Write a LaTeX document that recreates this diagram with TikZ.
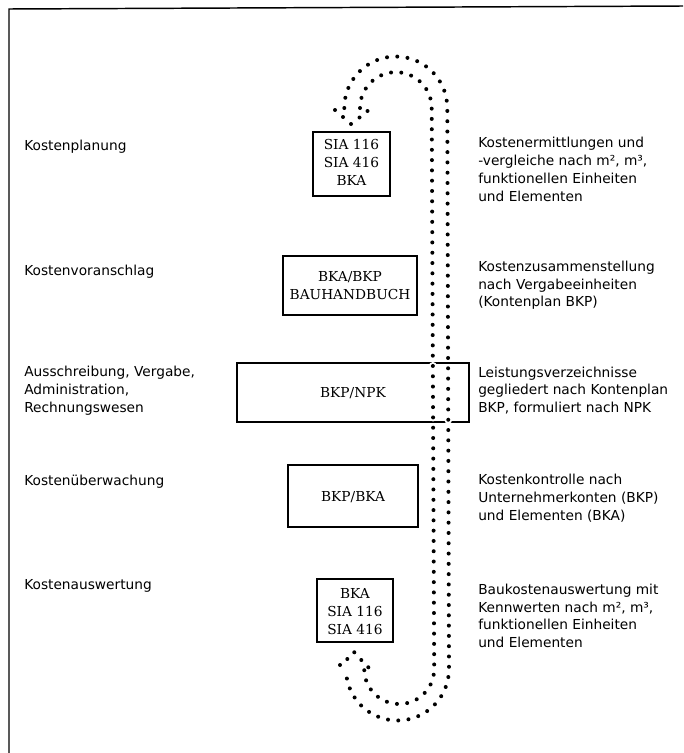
\documentclass[tikz,border=0pt]{standalone}
\usepackage{fontspec}
\setmainfont{DejaVu Sans}
\newfontfamily\toolfont{DejaVu Serif}

\begin{document}
\begin{tikzpicture}[x=0.75pt,y=0.75pt,yscale=-1,xscale=1,
  frame/.style={line width=1.1pt},
  dotline/.style={line width=3pt, line cap=round, dash pattern=on 0pt off 7.72pt},
  dothalo/.style={draw=white, line width=6pt, line cap=round, dash pattern=on 0pt off 7.72pt},
  phase/.style={anchor=west, inner sep=0pt, align=left, font=\fontsize{10.3}{13.3}\selectfont},
  tool/.style={inner sep=0pt, align=center, font=\toolfont\fontsize{10.3}{13.3}\selectfont}]
\useasboundingbox (0,0) rectangle (683,753);

%Straight Lines
\draw [frame]   (9,753) -- (9,9) -- (683,6) ;

%Shape: Rectangle
\draw [frame]   (313,132) -- (390,132) -- (390,196) -- (313,196) -- cycle ;
%Shape: Rectangle
\draw [frame]   (283,256) -- (417,256) -- (417,315) -- (283,315) -- cycle ;
%Shape: Rectangle
\draw [frame]   (237,363) -- (469,363) -- (469,422) -- (237,422) -- cycle ;
%Shape: Rectangle
\draw [frame]   (288,465) -- (418,465) -- (418,527) -- (288,527) -- cycle ;
%Shape: Rectangle
\draw [frame]   (317,579) -- (393,579) -- (393,642) -- (317,642) -- cycle ;

%Curve Lines (outer strand)
\draw [dothalo] (344.3,108) arc (180:360:51.5) -- (449,669) arc (0:180:51.5) ;
\draw [dotline] (344.3,108) arc (180:360:51.5) -- (449,669) arc (0:180:51.5) ;
%Curve Lines (inner strand)
\draw [dothalo] (360,108) arc (180:360:35.85) -- (434.2,669) arc (0:180:35) ;
\draw [dotline] (360,108) arc (180:360:35.85) -- (434.2,669) arc (0:180:35) ;

%Shape: Arrow heads
\foreach \p in {(335,110),(343,117),(351,124),(359.5,117.5),(367.5,111),
                (340,665),(347.3,659),(354.3,652.3),(361.3,660),(368.3,667.3)}
  \fill \p circle (2) ;

% Text Node
\draw (24,146.7) node (planung) [phase] {Kostenplanung};
% Text Node
\draw (24,271.7) node (voranschlag) [phase] {Kostenvoranschlag};
% Text Node
\draw (24,390.5) node (vergabe) [phase] {Ausschreibung, Vergabe,\\Administration,\\Rechnungswesen};
% Text Node
\draw (24,481.7) node (ueberwachung) [phase] {Kostenüberwachung};
% Text Node
\draw (24,586) node (auswertung) [phase] {Kostenauswertung};

% Text Node
\draw (351.5,162.5) node (siaA) [tool] {SIA 116\\SIA 416\\BKA};
% Text Node
\draw (350,285.5) node (bauhandbuch) [tool] {BKA/BKP\\BAUHANDBUCH};
% Text Node
\draw (353,393) node (npk) [tool] {BKP/NPK};
% Text Node
\draw (353,497) node (bkpbka) [tool] {BKP/BKA};
% Text Node
\draw (355,611.5) node (siaB) [tool] {BKA\\SIA 116\\SIA 416};

% Text Node
\draw (478,169.3) node (ermittlung) [phase] {Kostenermittlungen und\\-vergleiche nach m², m³,\\funktionellen Einheiten\\und Elementen};
% Text Node
\draw (478,285.3) node (zusammenstellung) [phase] {Kostenzusammenstellung\\nach Vergabeeinheiten\\(Kontenplan BKP)};
% Text Node
\draw (478,390.5) node (verzeichnis) [phase] {Leistungsverzeichnisse\\gegliedert nach Kontenplan\\BKP, formuliert nach NPK};
% Text Node
\draw (478,498.3) node (kontrolle) [phase] {Kostenkontrolle nach\\Unternehmerkonten (BKP)\\und Elementen (BKA)};
% Text Node
\draw (478,616) node (kennwerte) [phase] {Baukostenauswertung mit\\Kennwerten nach m², m³,\\funktionellen Einheiten\\und Elementen};

\end{tikzpicture}
\end{document}
